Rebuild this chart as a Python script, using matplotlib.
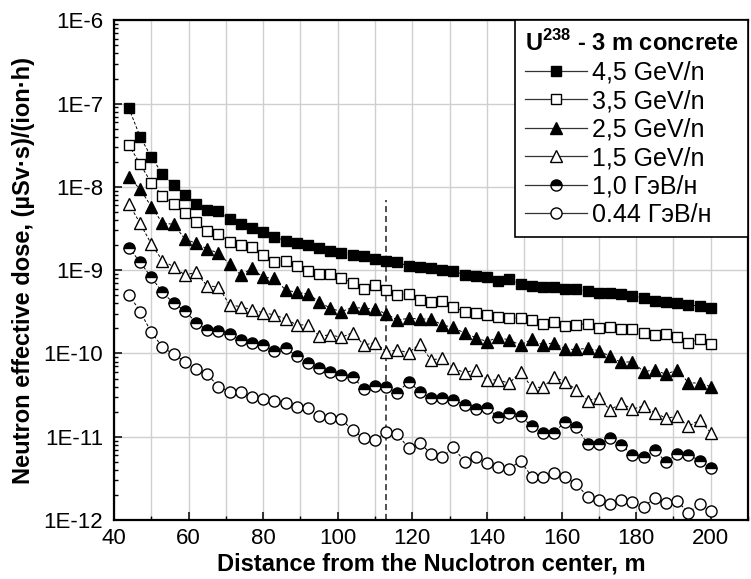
import matplotlib
matplotlib.use("Agg")
import matplotlib.pyplot as plt
from matplotlib.lines import Line2D
from matplotlib.ticker import MultipleLocator, LogLocator, NullFormatter
import numpy as np

plt.rcParams['font.family'] = ['Liberation Sans', 'DejaVu Sans']
plt.rcParams['mathtext.fontset'] = 'custom'
plt.rcParams['mathtext.rm'] = 'Liberation Sans'
plt.rcParams['mathtext.bf'] = 'Liberation Sans:bold'

# distance from the Nuclotron center, m
distance = [44, 47, 50, 53, 56, 59, 62, 65, 68, 71, 74, 77, 80, 83, 86, 89, 92, 95,
            98, 101, 104, 107, 110, 113, 116, 119, 122, 125, 128, 131, 134, 137,
            140, 143, 146, 149, 152, 155, 158, 161, 164, 167, 170, 173, 176, 179,
            182, 185, 188, 191, 194, 197, 200]

# neutron effective dose, (uSv*s)/(ion*h)
dose_45 = [8.8e-8, 4.0e-8, 2.29e-8, 1.43e-8, 1.06e-8, 8.06e-9, 6.23e-9, 5.33e-9, 5.14e-9,
           4.08e-9, 3.56e-9, 3.2e-9, 2.9e-9, 2.52e-9, 2.24e-9, 2.10e-9, 2.00e-9, 1.83e-9,
           1.71e-9, 1.60e-9, 1.52e-9, 1.48e-9, 1.36e-9, 1.30e-9, 1.24e-9, 1.12e-9, 1.09e-9,
           1.07e-9, 1.00e-9, 9.8e-10, 8.75e-10, 8.6e-10, 8.3e-10, 7.5e-10, 7.76e-10,
           6.82e-10, 6.45e-10, 6.33e-10, 6.22e-10, 5.94e-10, 5.94e-10, 5.67e-10, 5.27e-10,
           5.32e-10, 5.13e-10, 4.85e-10, 4.67e-10, 4.30e-10, 4.19e-10, 4.0e-10, 3.82e-10,
           3.72e-10, 3.55e-10]
dose_35 = [3.18e-8, 1.88e-8, 1.12e-8, 7.86e-9, 6.24e-9, 4.82e-9, 3.83e-9, 2.99e-9, 2.72e-9,
           2.20e-9, 2.03e-9, 1.9e-9, 1.53e-9, 1.26e-9, 1.29e-9, 1.12e-9, 9.86e-10, 9.0e-10,
           9.0e-10, 8.13e-10, 6.95e-10, 6.0e-10, 6.64e-10, 5.78e-10, 5.03e-10, 5.22e-10,
           4.38e-10, 4.11e-10, 4.22e-10, 3.58e-10, 3.18e-10, 3.09e-10, 2.92e-10, 2.72e-10,
           2.69e-10, 2.64e-10, 2.50e-10, 2.24e-10, 2.39e-10, 2.16e-10, 2.22e-10, 2.28e-10,
           2.04e-10, 2.06e-10, 1.99e-10, 1.99e-10, 1.78e-10, 1.65e-10, 1.73e-10, 1.59e-10,
           1.35e-10, 1.48e-10, 1.31e-10]
dose_25 = [1.30e-8, 9.4e-9, 5.8e-9, 3.66e-9, 3.56e-9, 2.37e-9, 2.10e-9, 1.80e-9, 1.60e-9,
           1.18e-9, 8.75e-10, 1.05e-9, 8.2e-10, 8.0e-10, 5.78e-10, 5.42e-10, 5.18e-10,
           4.19e-10, 3.48e-10, 3.18e-10, 3.58e-10, 3.48e-10, 3.42e-10, 2.98e-10, 2.52e-10,
           2.64e-10, 2.59e-10, 2.59e-10, 2.20e-10, 2.05e-10, 1.75e-10, 1.55e-10, 1.39e-10,
           1.56e-10, 1.45e-10, 1.26e-10, 1.48e-10, 1.26e-10, 1.35e-10, 1.12e-10, 1.12e-10,
           1.15e-10, 1.08e-10, 9.2e-11, 7.8e-11, 7.97e-11, 6.05e-11, 6.34e-11, 5.62e-11,
           6.34e-11, 4.47e-11, 4.38e-11, 4.0e-11]
dose_15 = [6.24e-9, 3.66e-9, 2.06e-9, 1.30e-9, 1.10e-9, 8.75e-10, 9.4e-10, 6.45e-10, 6.33e-10,
           3.82e-10, 3.65e-10, 3.33e-10, 3.09e-10, 2.90e-10, 2.6e-10, 2.2e-10, 2.2e-10,
           1.62e-10, 1.67e-10, 1.56e-10, 1.78e-10, 1.26e-10, 1.35e-10, 1.05e-10, 1.10e-10,
           1.02e-10, 1.30e-10, 8.35e-11, 8.75e-11, 6.64e-11, 5.89e-11, 6.34e-11, 4.81e-11,
           4.81e-11, 4.38e-11, 6.05e-11, 3.92e-11, 3.92e-11, 5.18e-11, 4.59e-11, 3.65e-11,
           2.72e-11, 2.90e-11, 2.10e-11, 2.52e-11, 2.14e-11, 2.34e-11, 1.95e-11, 1.67e-11,
           1.75e-11, 1.33e-11, 1.59e-11, 1.12e-11]
dose_10 = [1.86e-9, 1.25e-9, 8.2e-10, 5.42e-10, 4.0e-10, 3.27e-10, 2.34e-10, 1.91e-10, 1.88e-10,
           1.70e-10, 1.45e-10, 1.35e-10, 1.26e-10, 1.08e-10, 1.15e-10, 9.33e-11, 7.62e-11,
           6.64e-11, 6.05e-11, 5.52e-11, 5.27e-11, 3.72e-11, 4.07e-11, 3.92e-11, 3.39e-11,
           4.59e-11, 3.48e-11, 2.90e-11, 2.90e-11, 2.77e-11, 2.41e-11, 2.14e-11, 2.24e-11,
           1.71e-11, 1.95e-11, 1.78e-11, 1.33e-11, 1.10e-11, 1.12e-11, 1.52e-11, 1.30e-11,
           8.2e-12, 8.13e-12, 9.6e-12, 7.97e-12, 6.05e-12, 5.78e-12, 6.95e-12, 4.94e-12,
           6.22e-12, 6.05e-12, 5.18e-12, 4.19e-12]
dose_044 = [5.1e-10, 3.18e-10, 1.80e-10, 1.19e-10, 9.77e-11, 7.97e-11, 6.45e-11, 5.62e-11,
            4.0e-11, 3.48e-11, 3.48e-11, 3.03e-11, 2.82e-11, 2.72e-11, 2.57e-11, 2.30e-11,
            2.24e-11, 1.78e-11, 1.67e-11, 1.62e-11, 1.19e-11, 9.6e-12, 9.16e-12, 1.13e-11,
            1.07e-11, 7.28e-12, 8.5e-12, 6.22e-12, 5.68e-12, 7.48e-12, 5.03e-12, 5.68e-12,
            4.90e-12, 4.38e-12, 4.13e-12, 5.13e-12, 3.32e-12, 3.27e-12, 3.65e-12, 3.27e-12,
            2.69e-12, 1.91e-12, 1.74e-12, 1.56e-12, 1.74e-12, 1.63e-12, 1.45e-12, 1.83e-12,
            1.59e-12, 1.71e-12, 1.21e-12, 1.56e-12, 1.29e-12]

labels = ['4,5 GeV/n', '3,5 GeV/n', '2,5 GeV/n', '1,5 GeV/n', '1,0 ГэВ/н', '0.44 ГэВ/н']
legend_title = r'U$^{\mathbf{238}}$ - 3 m concrete'

# dashed marker line (shield position)
mark_x = 113
mark_top = 7e-9

y_ticks = [1e-12, 1e-11, 1e-10, 1e-9, 1e-8, 1e-7, 1e-6]
y_ticklabels = ['1E-12', '1E-11', '1E-10', '1E-9', '1E-8', '1E-7', '1E-6']

styles = [
    dict(marker='s', ms=7.5, mfc='black'),
    dict(marker='s', ms=7.5, mfc='white'),
    dict(marker='^', ms=8.5, mfc='black'),
    dict(marker='^', ms=8.5, mfc='white'),
    dict(marker='o', ms=8, mfc='black', fillstyle='top', markerfacecoloralt='white'),
    dict(marker='o', ms=8, mfc='white'),
]

fig = plt.figure(figsize=(7.51, 5.79), dpi=100)
ax = fig.add_axes([0.1518, 0.1019, 0.8442, 0.863])

series = [dose_45, dose_35, dose_25, dose_15, dose_10, dose_044]
handles = []
for vals, st, lab in zip(series, styles, labels):
    ax.plot(distance, vals, color='black', lw=0.7, ls=(0, (3, 2)),
            mec='black', mew=1.0, zorder=3, **st)
    handles.append(Line2D([], [], color='#333333', lw=0.9, mec='black', mew=1.0, **st))

ax.vlines(mark_x, y_ticks[0], mark_top, colors='#222222', lw=1.1,
          linestyles=(0, (4, 2.5)), zorder=2)

ax.set_yscale('log')
ax.set_xlim(40, 210)
ax.set_ylim(1e-12, 1e-6)
ax.set_yticks(y_ticks)
ax.set_yticklabels(y_ticklabels)
ax.yaxis.set_minor_locator(LogLocator(base=10, subs=np.arange(2, 10)))
ax.yaxis.set_minor_formatter(NullFormatter())
ax.xaxis.set_major_locator(MultipleLocator(20))
ax.xaxis.set_minor_locator(MultipleLocator(10))

ax.grid(True, which='major', axis='y', color='#cfcfcf', lw=1.0)
ax.grid(True, which='both', axis='x', color='#cfcfcf', lw=1.0)
ax.set_axisbelow(True)

ax.tick_params(which='major', direction='in', length=6, width=1.1, labelsize=16)
ax.tick_params(which='minor', direction='in', length=3, width=1.0)
ax.tick_params(axis='y', which='major', pad=8)
ax.tick_params(axis='x', which='major', pad=6)
for sp in ax.spines.values():
    sp.set_linewidth(1.6)

ax.set_xlabel('Distance from the Nuclotron center, m', fontsize=17, fontweight='bold', labelpad=2)
ax.set_ylabel('Neutron effective dose, (µSv·s)/(ion·h)', fontsize=17, fontweight='bold', labelpad=6)

leg = ax.legend(handles, labels, loc='upper right', bbox_to_anchor=(1, 1), borderaxespad=0,
                fancybox=False, framealpha=1, edgecolor='black', fontsize=18,
                title=legend_title, title_fontproperties={'weight': 'bold', 'size': 17},
                alignment='left', handlelength=2.5, handletextpad=0.2,
                labelspacing=0.18, borderpad=0.4)
leg.get_frame().set_linewidth(1.2)
leg.set_zorder(5)

fig.savefig('out.png', dpi=100)
